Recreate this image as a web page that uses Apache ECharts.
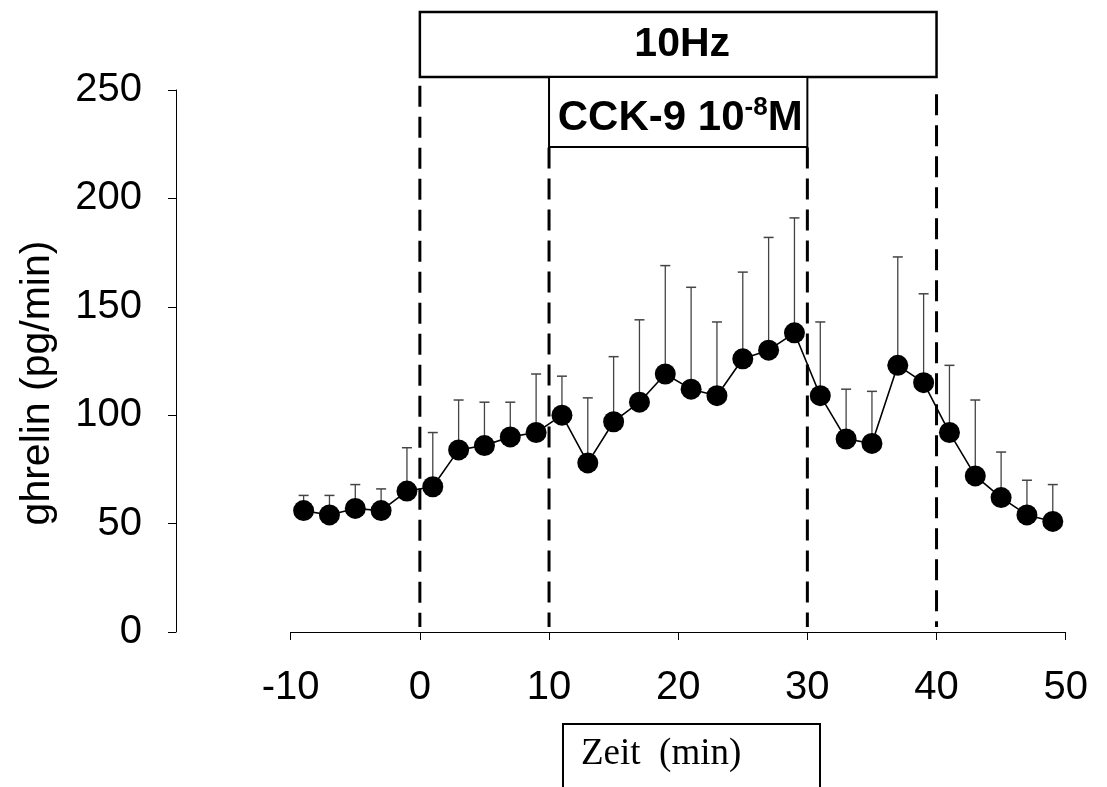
<!DOCTYPE html>
<html><head><meta charset="utf-8">
<script src="https://cdn.jsdelivr.net/npm/echarts@6/dist/echarts.min.js"></script>
<style>html,body{margin:0;padding:0;background:#fff}#c{width:1107px;height:787px}</style>
</head><body><div id="c"></div>
<script>
// ---- data ----
const times   = [-9,-7,-5,-3,-1,1,3,5,7,9,11,13,15,17,19,21,23,25,27,29,31,33,35,37,39,41,43,45,47,49];
const ghrelin = [56,54,57,56,65,67,84,86,90,92,100,78,97,106,119,112,109,126,130,138,109,89,87,123,115,92,72,62,54,51];
const sem     = [7,9,11,10,20,25,23,20,16,27,18,30,30,38,50,47,34,40,52,53,34,23,24,50,41,31,35,21,16,17];
const xTicks  = [-10,0,10,20,30,40,50];
const yTicks  = [0,50,100,150,200,250];
const phaseLines = [0,10,30,40];
const phases = [
  {name:'10Hz', from:0, to:40},
  {name:'CCK-9 10', sup:'-8', tail:'M', from:10, to:30}
];
const yTitle = 'ghrelin (pg/min)';
const xTitle = 'Zeit  (min)';

// ---- layout (not data) ----
const boxLevels = [[256,286],[223.7,256]];
const lineTops = {0:252, 10:223.5, 30:223.5, 40:248};
const lineBottom = 2.3;

const chart = echarts.init(document.getElementById('c'), null, {renderer:'canvas'});
const pts = times.map((t,i)=>[t, ghrelin[i]]);
const errs = times.map((t,i)=>[t, ghrelin[i], sem[i]]);

const option = {
  animation:false,
  backgroundColor:'#fff',
  grid:{left:290.7, right:41.3, top:90, bottom:155, containLabel:false},
  xAxis:{
    type:'value', min:xTicks[0], max:xTicks[xTicks.length-1], interval:10,
    splitLine:{show:false},
    axisLine:{show:true, onZero:false, lineStyle:{color:'#000', width:1}},
    axisTick:{show:true, length:8, inside:false, lineStyle:{color:'#000', width:1}},
    axisLabel:{fontFamily:'Liberation Sans', fontSize:40, color:'#000', margin:36}
  },
  yAxis:{
    type:'value', min:yTicks[0], max:yTicks[yTicks.length-1], interval:50,
    offset:114.7,
    splitLine:{show:false},
    axisLine:{show:true, onZero:false, lineStyle:{color:'#000', width:1}},
    axisTick:{show:true, length:8, inside:false, lineStyle:{color:'#000', width:1}},
    axisLabel:{fontFamily:'Liberation Sans', fontSize:40, color:'#000', margin:34}
  },
  graphic:[
    {type:'text', x:38, y:383, rotation:Math.PI/2,
     style:{text:yTitle, font:'41px "Liberation Sans"', fill:'#000', align:'center', verticalAlign:'middle'}},
    {type:'rect', shape:{x:563, y:724, width:257, height:120},
     style:{fill:'#fff', stroke:'#000', lineWidth:2}},
    {type:'text', x:581, y:754,
     style:{text:xTitle, font:'37px "Liberation Serif"', fill:'#000', align:'left', verticalAlign:'middle'}}
  ],
  series:[
    {
      type:'custom', clip:false, z:1,
      data: phaseLines.map(x=>[x]),
      renderItem:(params, api)=>{
        const x = api.value(0);
        const p0 = api.coord([x, lineTops[x]]);
        const p1 = api.coord([x, lineBottom]);
        return {type:'line', shape:{x1:p0[0],y1:p0[1],x2:p1[0],y2:p1[1]},
          style:{stroke:'#000', lineWidth:3, lineDash:[21,10]}};
      }
    },
    {
      type:'custom', clip:false, z:2,
      data: phases.map((p,i)=>[p.from, p.to, i]),
      renderItem:(params, api)=>{
        const i = api.value(2);
        const p = phases[i];
        const lv = boxLevels[i];
        const a = api.coord([p.from, lv[1]]);
        const b = api.coord([p.to, lv[0]]);
        const cx = (a[0]+b[0])/2, cy = (a[1]+b[1])/2;
        let text;
        if (i === 0) {
          text = {type:'text', x:cx+4, y:cy, style:{text:p.name, font:'bold 41px "Liberation Sans"', fill:'#000', align:'center', verticalAlign:'middle'}};
        } else {
          text = {type:'text', x:cx+2, y:cy+6, style:{
            text:'{n|'+p.name+'}{s|'+p.sup+'}{n|'+p.tail+'}',
            rich:{
              n:{fontFamily:'Liberation Sans', fontWeight:'bold', fontSize:42, lineHeight:46, verticalAlign:'middle', fill:'#000'},
              s:{fontFamily:'Liberation Sans', fontWeight:'bold', fontSize:26, lineHeight:26, verticalAlign:'top', fill:'#000'}
            },
            fill:'#000', align:'center', verticalAlign:'middle'}};
        }
        return {type:'group', children:[
          {type:'rect', shape:{x:a[0], y:a[1], width:b[0]-a[0], height:b[1]-a[1]},
           style:{fill:'#fff', stroke:'#000', lineWidth: i===0?2.5:2}},
          text
        ]};
      }
    },
    {
      type:'custom', z:3,
      data: errs,
      renderItem:(params, api)=>{
        const x = api.value(0), y = api.value(1), e = api.value(2);
        const p0 = api.coord([x,y]);
        const p1 = api.coord([x,y+e]);
        return {type:'group', children:[
          {type:'line', shape:{x1:p0[0],y1:p0[1],x2:p1[0],y2:p1[1]}, style:{stroke:'#444', lineWidth:1.3}},
          {type:'line', shape:{x1:p1[0]-5,y1:p1[1],x2:p1[0]+5,y2:p1[1]}, style:{stroke:'#444', lineWidth:1.5}}
        ]};
      }
    },
    {
      type:'line', z:4, data:pts,
      symbol:'circle', symbolSize:21,
      itemStyle:{color:'#000'},
      lineStyle:{color:'#000', width:1.6}
    }
  ]
};
chart.setOption(option);
</script>
</body></html>
